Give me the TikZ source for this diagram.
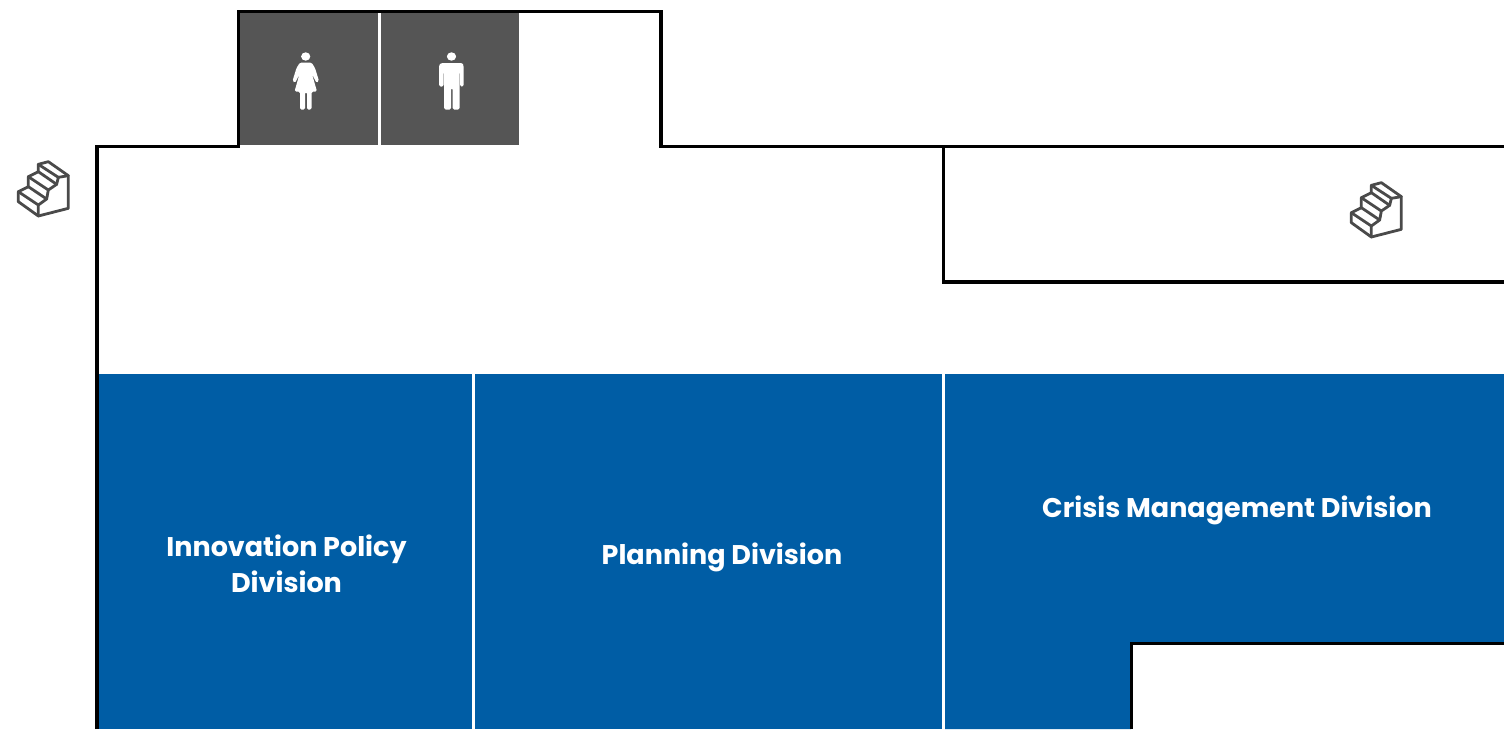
\documentclass[tikz,border=0pt]{standalone}
\usepackage{fontspec}
\setmainfont{Poppins}
\definecolor{divblue}{HTML}{005DA5}
\definecolor{wcgrey}{HTML}{555555}
\definecolor{stairgrey}{HTML}{4A4A4A}
\tikzset{
  wall/.style={draw=black,line width=3.4pt,line join=miter},
  divroom/.style={fill=divblue},
  wcroom/.style={fill=wcgrey},
  divlabel/.style={text=white,font=\fontsize{27pt}{36pt}\selectfont\bfseries,align=center,inner sep=0pt},
  stairline/.style={draw=stairgrey,line width=2.8pt,line join=round,line cap=round},
  stairs/.pic={
    \begin{scope}[x=0.3333pt,y=-0.3333pt]
    \draw[stairline] (55,140) -- (85,125) -- (85,95) -- (115,80) -- (115,58) -- (145,50) -- (205,92) -- (205,190) -- (115,213) -- (55,170) -- cycle;
    \draw[stairline] (55,140) -- (115,180) -- (115,213);
    \draw[stairline] (85,125) -- (140,162);
    \draw[stairline] (85,95) -- (145,135);
    \draw[stairline] (115,80) -- (170,118);
    \draw[stairline] (115,58) -- (175,97);
    \draw[stairline] (115,180) -- (140,162) -- (145,135) -- (170,118) -- (175,97) -- (205,92);
    \end{scope}
  }
}
\begin{document}
\begin{tikzpicture}[x=1pt,y=-1pt]
\useasboundingbox (0,0) rectangle (1504,729);
\clip (0,0) rectangle (1504,729);
% rooms
\fill[wcroom] (239,13) rectangle (377.7,145);
\fill[wcroom] (381,13) rectangle (518.5,145);
\fill[divroom] (97,374) rectangle (472,729);
\fill[divroom] (475,374) rectangle (942,729);
\fill[divroom] (945,374) -- (1504,374) -- (1504,644) -- (1131,644) -- (1131,729) -- (945,729) -- cycle;
% walls
\draw[wall] (97,729) -- (97,146.5) -- (238.5,146.5) -- (238.5,11.7) -- (661,11.7) -- (661,146.5) -- (1504,146.5);
\draw[wall] (943.5,146.5) -- (943.5,282) -- (1504,282);
\draw[wall] (1131.5,729) -- (1131.5,643.5) -- (1504,643.5);
% toilet figures
\fill[white] (305.7,56.5) ellipse (4.6 and 4.2);
\fill[white,rounded corners=1.5pt] (300,62.5) -- (311.5,62.5) -- (315,68) -- (319,81) -- (316.5,83) -- (312,74) -- (317,91.5) -- (311.5,91.5) -- (311.5,109.5) -- (307,109.5) -- (307,92) -- (305,92) -- (305,109.5) -- (300,109.5) -- (300,91.5) -- (294.5,91.5) -- (299.5,74) -- (295,83) -- (292.5,81) -- (296.5,68) -- cycle;
\fill[white] (451.5,56.5) ellipse (4.6 and 4.2);
\fill[white,rounded corners=1.5pt] (441,63) -- (462.5,63) -- (463.5,65) -- (463.5,86.5) -- (460,86.5) -- (460,72) -- (459.5,72) -- (459.5,109.5) -- (452.5,109.5) -- (452.5,88) -- (451,88) -- (451,109.5) -- (444,109.5) -- (444,72) -- (443.5,72) -- (443.5,86.5) -- (439,86.5) -- (439,65) -- cycle;
% stairs
\pic at (0,145) {stairs};
\pic at (1333,166) {stairs};
% labels
\node[divlabel] (innovation) at (286.5,564) {Innovation Policy\\Division};
\node[divlabel] (planning) at (722,557) {Planning Division};
\node[divlabel] (crisis) at (1237,510) {Crisis Management Division};
\end{tikzpicture}
\end{document}
